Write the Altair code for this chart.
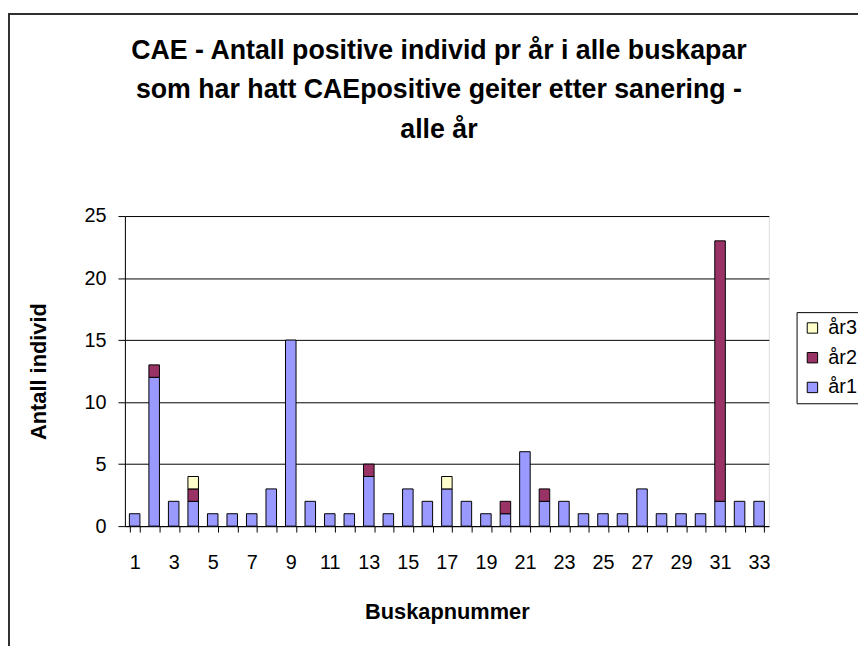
import altair as alt
import pandas as pd

buskap = list(range(1, 34))
ar1 = [1, 12, 2, 2, 1, 1, 1, 3, 15, 2, 1, 1, 4, 1, 3, 2, 3, 2, 1, 1, 6, 2, 2, 1, 1, 1, 3, 1, 1, 1, 2, 2, 2]
ar2 = [0, 1, 0, 1, 0, 0, 0, 0, 0, 0, 0, 0, 1, 0, 0, 0, 0, 0, 0, 1, 0, 1, 0, 0, 0, 0, 0, 0, 0, 0, 21, 0, 0]
ar3 = [0, 0, 0, 1, 0, 0, 0, 0, 0, 0, 0, 0, 0, 0, 0, 0, 1, 0, 0, 0, 0, 0, 0, 0, 0, 0, 0, 0, 0, 0, 0, 0, 0]
series = ["år1", "år2", "år3"]
colors = ["#9999FF", "#993366", "#FFFFCC"]

rows = []
for name, vals, rank in zip(series, [ar1, ar2, ar3], [1, 2, 3]):
    for b, v in zip(buskap, vals):
        if v > 0:
            rows.append({"Buskap": b, "Serie": name, "Antall": v, "rank": rank})
df = pd.DataFrame(rows)

FONT = "Liberation Sans"

frame = alt.Chart(alt.Data(values=[{}])).mark_rect(
    fill="white", fillOpacity=0, stroke="#303030", strokeWidth=2, clip=False
).encode(
    x=alt.value(-117), x2=alt.value(760), y=alt.value(-204), y2=alt.value(460)
)

bars = alt.Chart(df).mark_bar(stroke="black", strokeWidth=1).encode(
    x=alt.X("Buskap:O", title="Buskapnummer",
            scale=alt.Scale(paddingInner=0.46, paddingOuter=0.23),
            axis=alt.Axis(labelAngle=0, tickBand="extent",
                          labelExpr="datum.value % 2 == 1 ? datum.label : ''",
                          tickSize=6, labelPadding=21, titlePadding=29,
                          domainColor="black", tickColor="black",
                          labelFontSize=20, titleFontSize=22, labelFont=FONT, titleFont=FONT,
                          labelColor="black", titleColor="black", titleFontWeight="bold")),
    y=alt.Y("sum(Antall):Q", title="Antall individ",
            scale=alt.Scale(domain=[0, 25], nice=False),
            axis=alt.Axis(values=[0, 5, 10, 15, 20, 25], tickSize=7, labelPadding=12,
                          titlePadding=34, grid=True, gridColor="black", gridWidth=1,
                          domainColor="black", tickColor="black",
                          labelFontSize=20, titleFontSize=22, labelFont=FONT, titleFont=FONT,
                          labelColor="black", titleColor="black", titleFontWeight="bold")),
    color=alt.Color("Serie:N",
                    scale=alt.Scale(domain=series, range=colors),
                    sort=["år3", "år2", "år1"],
                    legend=alt.Legend(title=None, orient="none", legendX=678, legendY=97,
                                      symbolType="square", symbolSize=110,
                                      symbolStrokeColor="black", symbolStrokeWidth=1,
                                      labelFontSize=20, labelFont=FONT, labelColor="black",
                                      strokeColor="black", padding=6, rowPadding=10,
                                      labelOffset=6, values=["år3", "år2", "år1"])),
    order=alt.Order("rank:Q", sort="ascending"),
)

chart = alt.layer(frame, bars).properties(
    width=650, height=313,
    autosize=alt.AutoSizeParams(type="none"),
    padding={"left": 118, "top": 207, "right": 90, "bottom": 118},
    title=alt.TitleParams(
        ["CAE - Antall positive individ pr år i alle buskapar",
         "som har hatt CAEpositive geiter etter sanering -",
         "alle år"],
        font=FONT, fontSize=27, fontWeight="bold", color="black",
        lineHeight=40, anchor="middle", frame="group", offset=0, dy=132, dx=-8),
).configure_view(
    fill="#C0C0C0", stroke="#808080", strokeWidth=1
).configure(background="white")

chart.save("out.html", embed_options={"renderer": "svg", "actions": False})
